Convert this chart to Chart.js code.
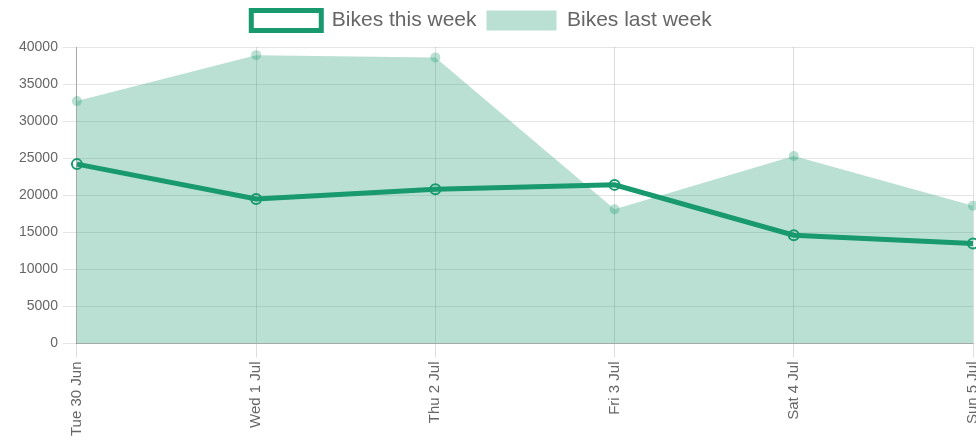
<!DOCTYPE html>
<html>
<head>
<meta charset="utf-8">
<script src="https://cdn.jsdelivr.net/npm/chart.js@4/dist/chart.umd.min.js"></script>
<style>
    html, body { margin: 0; padding: 0; background: #fff; overflow: hidden; }
    .chart-box { width: 995px; height: 440px; position: relative; }
</style>
</head>
<body>
<div class="chart-box"><canvas id="bikesChart"></canvas></div>
<script>
// Dados
const dias = ['Tue 30 Jun', 'Wed 1 Jul', 'Thu 2 Jul', 'Fri 3 Jul', 'Sat 4 Jul', 'Sun 5 Jul'];
const bikesThisWeek = [24200, 19500, 20800, 21400, 14600, 13500];
const bikesLastWeek = [32700, 38900, 38600, 18100, 25300, 18600];

const verde = '#18996e';
const verdeClaro = 'rgba(24, 153, 110, 0.3)';

Chart.defaults.font.family = '"Liberation Sans", Arial, sans-serif';
Chart.defaults.color = '#666';

// Ajuste da legenda: um pouco mais de espaço abaixo e deslocada à esquerda
const ajusteLegenda = {
    id: 'ajusteLegenda',
    beforeInit(chart) {
        const fitOriginal = chart.legend.fit;
        chart.legend.fit = function () {
            fitOriginal.call(this);
            this.height += 6;
        };
    },
    afterLayout(chart) {
        chart.legend.left -= 23;
        chart.legend.right -= 23;
    }
};

const ctx = document.getElementById('bikesChart').getContext('2d');
new Chart(ctx, {
    type: 'line',
    data: {
        labels: dias,
        datasets: [{
            label: 'Bikes this week',
            data: bikesThisWeek,
            borderColor: verde,
            backgroundColor: 'transparent',
            borderWidth: 5,
            fill: false,
            tension: 0,
            pointRadius: 5,
            pointBorderWidth: 2,
            pointBorderColor: verde,
            pointBackgroundColor: 'transparent'
        },
        {
            label: 'Bikes last week',
            data: bikesLastWeek,
            borderColor: 'transparent',
            backgroundColor: verdeClaro,
            borderWidth: 0,
            fill: 'origin',
            tension: 0,
            pointRadius: 5,
            pointBorderWidth: 0,
            pointBackgroundColor: verdeClaro
        }]
    },
    options: {
        responsive: true,
        maintainAspectRatio: false,
        animation: false,
        layout: { padding: { left: 14, right: 0, top: 0, bottom: 0 } },
        plugins: {
            legend: {
                position: 'top',
                labels: {
                    boxWidth: 70,
                    boxHeight: 20,
                    padding: 10,
                    font: { size: 21 },
                    color: '#666'
                }
            },
            tooltip: { enabled: false }
        },
        scales: {
            x: {
                grid: { color: 'rgba(0,0,0,0.13)', tickLength: 14 },
                border: { color: 'rgba(0,0,0,0.25)' },
                ticks: { minRotation: 90, maxRotation: 90, padding: 4, font: { size: 15 } }
            },
            y: {
                min: 0,
                max: 40000,
                grid: { color: 'rgba(0,0,0,0.1)', tickLength: 14 },
                border: { color: 'rgba(0,0,0,0.25)' },
                ticks: {
                    stepSize: 5000,
                    padding: 5,
                    font: { size: 14 },
                    callback: (valor) => String(valor)
                }
            }
        }
    },
    plugins: [ajusteLegenda]
});
</script>
</body>
</html>
